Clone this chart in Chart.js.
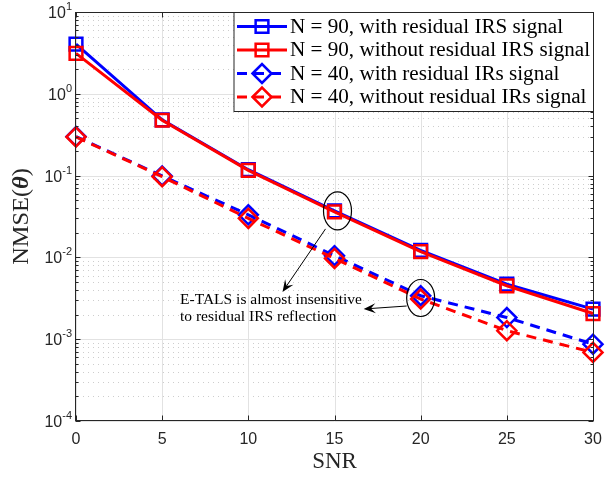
<!DOCTYPE html>
<html>
<head>
<meta charset="utf-8">
<script src="https://cdn.jsdelivr.net/npm/chart.js@4/dist/chart.umd.min.js"></script>
<style>
  html, body { margin: 0; padding: 0; background: #ffffff; }
  #wrap { width: 605px; height: 477px; }
</style>
</head>
<body>
<div id="wrap"><canvas id="c" width="605" height="477"></canvas></div>
<script>
// SNR points (dB)
const snr = [0, 5, 10, 15, 20, 25, 30];

// NMSE of the estimated IRS parameters
const n90With    = [4.05, 0.480, 0.118, 0.0370, 0.0122, 0.00470, 0.00233];
const n90Without = [3.12, 0.475, 0.116, 0.0360, 0.0118, 0.00450, 0.00206];
const n40With    = [0.300, 0.099, 0.0332, 0.0105, 0.00340, 0.00184, 0.00087];
const n40Without = [0.297, 0.097, 0.0300, 0.0097, 0.00310, 0.00127, 0.00069];

const seriesLabels = [
  'N = 90, with residual IRS signal',
  'N = 90, without residual IRS signal',
  'N = 40, with residual IRs signal',
  'N = 40, without residual IRs signal'
];

const xTicks = [0, 5, 10, 15, 20, 25, 30];
const yDecades = [-4, -3, -2, -1, 0, 1];

const noteLines = ['E-TALS is almost insensitive', 'to residual IRS reflection'];

const INK = '#262626';
const SERIF = '"Liberation Serif", "Times New Roman", serif';
const SANS = '"Liberation Sans", Arial, sans-serif';

// every 1..9 x 10^k value between the first and last decade
const yTickValues = [];
yDecades.forEach((e, i) => {
  if (i === yDecades.length - 1) { yTickValues.push(Math.pow(10, e)); return; }
  for (let m = 1; m <= 9; m++) yTickValues.push(+(m * Math.pow(10, e)).toPrecision(3));
});
const isDecade = v => Math.abs(Math.log10(v) - Math.round(Math.log10(v))) < 1e-9;

const toPoints = ys => snr.map((x, i) => ({ x, y: ys[i] }));

function series(label, ys, color, dashed) {
  return {
    label,
    data: toPoints(ys),
    borderColor: color,
    backgroundColor: 'rgba(0,0,0,0)',
    borderWidth: 3,
    borderDash: dashed ? [10, 7] : [],
    pointStyle: dashed ? 'rectRot' : 'rect',
    pointRadius: dashed ? 9.5 : 9,
    pointBorderWidth: 2.5,
    pointBorderColor: color,
    pointBackgroundColor: 'rgba(0,0,0,0)',
    pointHoverRadius: dashed ? 9.5 : 9,
    tension: 0,
    clip: false
  };
}

const datasets = [
  Object.assign(series(seriesLabels[0], n90With, '#0000ff', false), { order: 4 }),
  Object.assign(series(seriesLabels[1], n90Without, '#ff0000', false), { order: 3 }),
  Object.assign(series(seriesLabels[2], n40With, '#0000ff', true), { order: 2 }),
  Object.assign(series(seriesLabels[3], n40Without, '#ff0000', true), { order: 1 })
];

// draw text stretched horizontally by sx
function stretchedText(ctx, text, x, y, sx) {
  ctx.save();
  ctx.translate(x, y);
  ctx.scale(sx, 1);
  ctx.fillText(text, 0, 0);
  ctx.restore();
}

// grid behind the curves
const gridPlugin = {
  id: 'mgrid',
  beforeDatasetsDraw(chart) {
    const { ctx, chartArea: a, scales: { x, y } } = chart;
    ctx.save();
    ctx.lineWidth = 1;
    // minor dotted rows
    ctx.strokeStyle = '#cdcdcd';
    ctx.setLineDash([1, 4]);
    yTickValues.filter(v => !isDecade(v)).forEach(v => {
      const py = Math.round(y.getPixelForValue(v)) + 0.5;
      ctx.beginPath(); ctx.moveTo(a.left + 2, py); ctx.lineTo(a.right, py); ctx.stroke();
    });
    // major solid lines
    ctx.setLineDash([]);
    ctx.strokeStyle = '#e2e2e2';
    yTickValues.filter(isDecade).forEach(v => {
      const py = Math.round(y.getPixelForValue(v)) + 0.5;
      ctx.beginPath(); ctx.moveTo(a.left, py); ctx.lineTo(a.right, py); ctx.stroke();
    });
    xTicks.forEach(v => {
      const px = Math.round(x.getPixelForValue(v)) + 0.5;
      ctx.beginPath(); ctx.moveTo(px, a.top); ctx.lineTo(px, a.bottom); ctx.stroke();
    });
    ctx.restore();
  }
};

// axes box, inward ticks, tick labels and axis titles
const axesPlugin = {
  id: 'maxes',
  afterDatasetsDraw(chart) {
    const { ctx, chartArea: a, scales: { x, y } } = chart;
    ctx.save();
    ctx.strokeStyle = INK;
    ctx.lineWidth = 1;
    const L = Math.round(a.left) - 0.5, R = Math.round(a.right) + 0.5;
    const T = Math.round(a.top) + 0.5, B = Math.round(a.bottom) - 0.5;
    ctx.strokeRect(L, T, R - L, B - T);

    ctx.beginPath();
    xTicks.forEach(v => {
      const px = Math.round(x.getPixelForValue(v)) + 0.5;
      ctx.moveTo(px, B); ctx.lineTo(px, B - 5);
      ctx.moveTo(px, T); ctx.lineTo(px, T + 5);
    });
    yTickValues.forEach(v => {
      const py = Math.round(y.getPixelForValue(v)) + 0.5;
      const len = isDecade(v) ? 5 : 3;
      ctx.moveTo(L, py); ctx.lineTo(L + len, py);
      ctx.moveTo(R, py); ctx.lineTo(R - len, py);
    });
    ctx.stroke();

    // x tick labels
    ctx.fillStyle = INK;
    ctx.font = '16px ' + SANS;
    ctx.textAlign = 'center';
    ctx.textBaseline = 'middle';
    xTicks.forEach(v => ctx.fillText(String(v), x.getPixelForValue(v), a.bottom + 19));

    // y tick labels 10^k
    yDecades.forEach(e => {
      const py = y.getPixelForValue(Math.pow(10, e));
      const exp = String(e);
      ctx.font = '16px ' + SANS;
      const wb = ctx.measureText('10').width;
      ctx.font = '11px ' + SANS;
      const we = ctx.measureText(exp).width;
      const x0 = a.left - 4 - we - wb;
      ctx.textAlign = 'left';
      ctx.textBaseline = 'middle';
      ctx.font = '16px ' + SANS;
      ctx.fillText('10', x0, py + 1.5);
      ctx.font = '11px ' + SANS;
      ctx.fillText(exp, x0 + wb, py - 5);
    });

    // x title
    ctx.font = '23px ' + SERIF;
    ctx.textAlign = 'center';
    ctx.textBaseline = 'middle';
    ctx.fillText('SNR', x.getPixelForValue(15), a.bottom + 41);

    // y title: NMSE(θ) with bold italic theta
    ctx.save();
    ctx.translate(22, (a.top + a.bottom) / 2);
    ctx.rotate(-Math.PI / 2);
    ctx.scale(1.06, 1);
    ctx.textBaseline = 'middle';
    ctx.textAlign = 'left';
    const parts = [
      ['NMSE(', '23px ' + SERIF],
      ['\u03B8', 'italic bold 23px ' + SERIF],
      [')', '23px ' + SERIF]
    ];
    let total = 0;
    parts.forEach(p => { ctx.font = p[1]; total += ctx.measureText(p[0]).width; });
    let cx = -total / 2;
    parts.forEach(p => { ctx.font = p[1]; ctx.fillText(p[0], cx, 0); cx += ctx.measureText(p[0]).width; });
    ctx.restore();
    ctx.restore();
  }
};

function arrow(ctx, x1, y1, x2, y2) {
  const ang = Math.atan2(y2 - y1, x2 - x1);
  const len = 12, half = 5;
  ctx.beginPath();
  ctx.moveTo(x1, y1);
  ctx.lineTo(x2 - Math.cos(ang) * 6, y2 - Math.sin(ang) * 6);
  ctx.stroke();
  const c = Math.cos(ang), s = Math.sin(ang);
  const bx = x2 - c * len, by = y2 - s * len;
  ctx.beginPath();
  ctx.moveTo(x2, y2);
  ctx.lineTo(bx - s * half, by + c * half);
  ctx.lineTo(x2 - c * len * 0.6, y2 - s * len * 0.6);
  ctx.lineTo(bx + s * half, by - c * half);
  ctx.closePath();
  ctx.fill();
}

// ellipses, arrows and the remark
const notePlugin = {
  id: 'mnote',
  afterDatasetsDraw(chart) {
    const { ctx, scales: { x, y } } = chart;
    ctx.save();
    ctx.strokeStyle = '#000000';
    ctx.fillStyle = '#000000';
    ctx.lineWidth = 1.2;

    const e1x = x.getPixelForValue(snr[3]) + 3, e1y = y.getPixelForValue(n90Without[3]) - 1;
    const e2x = x.getPixelForValue(snr[4]), e2y = y.getPixelForValue(n40Without[4]) - 1;
    ctx.beginPath(); ctx.ellipse(e1x, e1y, 14, 19, 0, 0, Math.PI * 2); ctx.stroke();
    ctx.beginPath(); ctx.ellipse(e2x, e2y, 14, 18.5, 0, 0, Math.PI * 2); ctx.stroke();

    ctx.lineWidth = 1;
    arrow(ctx, e1x - 12, e1y + 18, e1x - 55, e1y + 81);
    arrow(ctx, e2x - 14, e2y + 8, e2x - 57, e2y + 11);

    ctx.font = '15px ' + SERIF;
    ctx.textAlign = 'left';
    ctx.textBaseline = 'middle';
    const w = ctx.measureText(noteLines[0]).width;
    const sx = 182 / w;
    stretchedText(ctx, noteLines[0], 180, 300, sx);
    stretchedText(ctx, noteLines[1], 180, 317, sx);
    ctx.restore();
  }
};

// boxed legend in the upper right corner
const legendPlugin = {
  id: 'mlegend',
  afterDraw(chart) {
    const { ctx, chartArea: a } = chart;
    const bx = 234, by = Math.round(a.top) + 0.5, bw = Math.round(a.right) - bx + 0.5, bh = 99;
    ctx.save();
    ctx.fillStyle = '#ffffff';
    ctx.fillRect(bx, by, bw, bh);
    ctx.strokeStyle = INK;
    ctx.lineWidth = 1;
    ctx.strokeRect(bx, by, bw, bh);

    ctx.font = '20px ' + SERIF;
    const longest = Math.max(...seriesLabels.map(t => ctx.measureText(t).width));
    const sx = 300 / longest;

    chart.data.datasets.forEach((ds, i) => {
      const cy = by + 14 + i * 23.5;
      ctx.save();
      ctx.strokeStyle = ds.borderColor;
      ctx.lineWidth = ds.borderWidth;
      ctx.setLineDash(ds.borderDash);
      ctx.beginPath(); ctx.moveTo(bx + 3, cy); ctx.lineTo(bx + 53, cy); ctx.stroke();
      ctx.setLineDash([]);
      ctx.lineWidth = ds.pointBorderWidth;
      ctx.fillStyle = 'rgba(0,0,0,0)';
      Chart.helpers.drawPoint(ctx, {
        pointStyle: ds.pointStyle, rotation: 0,
        radius: ds.pointRadius, borderWidth: ds.pointBorderWidth
      }, bx + 28, cy);
      ctx.restore();

      ctx.fillStyle = '#000000';
      ctx.font = '20px ' + SERIF;
      ctx.textAlign = 'left';
      ctx.textBaseline = 'middle';
      stretchedText(ctx, ds.label, bx + 56, cy + 1, sx);
    });
    ctx.restore();
  }
};

new Chart(document.getElementById('c'), {
  type: 'line',
  data: { datasets },
  options: {
    responsive: false,
    animation: false,
    devicePixelRatio: 1,
    layout: { padding: { left: 76, right: 7, top: 9, bottom: 56 } },
    plugins: { legend: { display: false }, tooltip: { enabled: false } },
    scales: {
      x: { type: 'linear', min: 0, max: 30, display: false },
      y: { type: 'logarithmic', min: 1e-4, max: 10, display: false }
    }
  },
  plugins: [gridPlugin, axesPlugin, notePlugin, legendPlugin]
});
</script>
</body>
</html>
